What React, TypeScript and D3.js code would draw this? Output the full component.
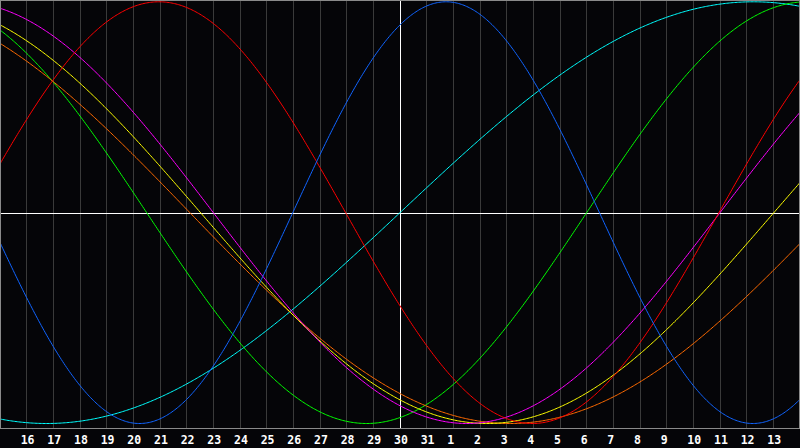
import React from "react";
import * as d3 from "d3";

// Day labels along the bottom (one per grid line)
const dayLabels = [
  "16", "17", "18", "19", "20", "21", "22", "23", "24", "25", "26", "27", "28", "29", "30",
  "31", "1", "2", "3", "4", "5", "6", "7", "8", "9", "10", "11", "12", "13",
];

// Cycles (biorhythm): period in days and the day index where each curve crosses zero going up
const cycleNames = ["Spiritual", "Intellectual", "Awareness", "Aesthetic", "Intuitive", "Emotional", "Physical"];
const cyclePeriods = [53, 33, 48, 43, 38, 28, 23];
const cycleZeroDays = [15.0, 22.0, 31.12, 29.02, 27.0, 26.96, 10.98];
const cycleColors = ["#00ffff", "#00ff00", "#ff6a00", "#ffff00", "#ff00ff", "#ff0000", "#1064ff"];

const W = 800;
const H = 448;
const PLOT_H = 428;
const DAYS = 30;

export default function App() {
  const x = d3.scaleLinear().domain([0, DAYS]).range([0, W]);
  const y = d3.scaleLinear().domain([-1, 1]).range([423.5, 1.8]);

  const samples = d3.range(0, DAYS + 0.0001, 0.05);
  const line = d3
    .line<number>()
    .x((d) => x(d))
    .y((d) => d[1 as any] as any);

  const paths = cycleNames.map((name, i) => {
    const P = cyclePeriods[i];
    const z = cycleZeroDays[i];
    const pts: [number, number][] = samples.map((d) => [x(d), y(Math.sin((2 * Math.PI * (d - z)) / P))]);
    const gen = d3.line<[number, number]>().x((p) => p[0]).y((p) => p[1]);
    return { name, d: gen(pts) || "", color: cycleColors[i] };
  });
  void line;

  const gridIdx = d3.range(1, DAYS);
  const midY = 213.5;

  return (
    <svg
      width={W}
      height={H}
      style={{ position: "absolute", left: 0, top: 0, background: "#050508", display: "block" }}
      xmlns="http://www.w3.org/2000/svg"
    >
      <rect x={0} y={0} width={W} height={H} fill="#050508" />
      {gridIdx.map((i) => {
        const gx = Math.floor(x(i)) + 0.5;
        return (
          <line
            key={"g" + i}
            x1={gx}
            x2={gx}
            y1={0}
            y2={PLOT_H}
            stroke={i === 15 ? "#ffffff" : "#3a3a3a"}
            strokeWidth={1}
          />
        );
      })}
      <line x1={0} x2={W} y1={midY} y2={midY} stroke="#ffffff" strokeWidth={1} />
      {paths.map((p) => (
        <path key={p.name} d={p.d} fill="none" stroke={p.color} strokeWidth={1} />
      ))}
      <rect x={0.5} y={0.5} width={W - 1} height={PLOT_H} fill="none" stroke="#8a8a8a" strokeWidth={1} />
      {dayLabels.map((lab, i) => (
        <text
          key={"t" + i}
          x={x(i + 1) - 6}
          y={443.5}
          fill="#ffffff"
          fontFamily="'DejaVu Sans Mono', monospace"
          fontWeight="bold"
          fontSize={11.5}
        >
          {lab}
        </text>
      ))}
    </svg>
  );
}
